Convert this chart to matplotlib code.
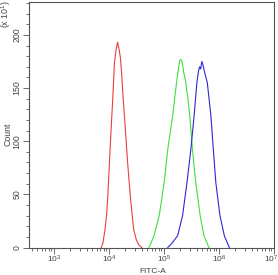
import numpy as np
import matplotlib
matplotlib.use("Agg")
from matplotlib import pyplot as plt
from matplotlib.ticker import LogLocator, MultipleLocator, NullFormatter
from matplotlib.transforms import ScaledTranslation

plt.rcParams['font.family'] = ['Liberation Sans', 'DejaVu Sans']
plt.rcParams['mathtext.fontset'] = 'custom'
plt.rcParams['mathtext.rm'] = 'Liberation Sans'

# histogram outlines: log10(FITC-A) and count (x 10^1)
red_log = [3.86, 3.89, 3.93, 3.96, 3.98, 4.01, 4.04, 4.07, 4.10, 4.13, 4.15, 4.16,
           4.17, 4.19, 4.21, 4.23, 4.26, 4.30, 4.34, 4.39, 4.45, 4.50, 4.55, 4.60]
red_count = [0, 4, 17, 32, 48, 80, 111, 140, 173, 186, 191, 193,
             190, 185, 178, 165, 140, 111, 80, 48, 17, 7, 2, 0]

green_log = [4.73, 4.82, 4.915, 5.005, 5.07, 5.16, 5.23, 5.27, 5.29, 5.31, 5.33,
             5.36, 5.40, 5.42, 5.43, 5.47, 5.52, 5.58, 5.66, 5.73, 5.82]
green_count = [0, 11, 30, 61, 92, 124, 155, 170, 176, 177, 175,
               165, 155, 146, 144, 124, 92, 61, 30, 11, 0]

blue_log = [5.07, 5.13, 5.25, 5.34, 5.42, 5.49, 5.55, 5.60, 5.63, 5.65, 5.67, 5.69,
            5.71, 5.74, 5.79, 5.855, 5.90, 5.945, 6.02, 6.10, 6.19]
blue_count = [0, 3, 11, 30, 61, 92, 124, 155, 166, 170, 168, 175,
              172, 165, 155, 124, 92, 61, 30, 11, 0]

x_major = [1e3, 1e4, 1e5, 1e6, 1e7]
y_major = [0, 50, 100, 150, 200]

fig = plt.figure(figsize=(2.78, 2.75), dpi=100)
ax = fig.add_axes([0.104, 0.100, 0.881, 0.893])

ax.plot(10 ** np.array(red_log), red_count, color="#e8403c", lw=0.8)
ax.plot(10 ** np.array(green_log), green_count, color="#3ee03e", lw=0.8)
ax.plot(10 ** np.array(blue_log), blue_count, color="#2a2ad0", lw=0.8)

ax.set_xscale("log")
ax.set_xlim(10 ** 2.545, 1e7)
ax.set_ylim(0, 231)
ax.set_xticks(x_major)
ax.xaxis.set_minor_locator(LogLocator(base=10, subs=np.arange(2, 10)))
ax.xaxis.set_minor_formatter(NullFormatter())
ax.set_yticks(y_major)
ax.yaxis.set_minor_locator(MultipleLocator(10))

txt = "#444444"
for s in ax.spines.values():
    s.set_color("#555555")
    s.set_linewidth(0.8)
ax.tick_params(which="both", direction="out", colors="#555555", labelcolor=txt,
               labelsize=6.3, width=0.6)
ax.tick_params(which="major", length=4, pad=1.5)
ax.tick_params(which="minor", length=2.5)
ax.tick_params(axis="x", which="major", labelsize=6, pad=0.5)
for lab in ax.get_yticklabels():
    lab.set_rotation(90)
    lab.set_va("center")
# last x label sits against the right edge, nudge it in a bit
last = ax.get_xticklabels()[-1]
last.set_transform(last.get_transform() + ScaledTranslation(-3 / 100, 0, fig.dpi_scale_trans))

fig.text(0.55, 0.0, "FITC-A", ha="center", va="bottom", fontsize=6, color=txt)
fig.text(0.028, 0.51, "Count", rotation=90, ha="center", va="center", fontsize=6.3, color=txt)
fig.text(0.022, 0.998, r"(x 10$^{1}$)", rotation=90, ha="center", va="top", fontsize=6.3, color=txt)

fig.savefig("out.png", dpi=100)
